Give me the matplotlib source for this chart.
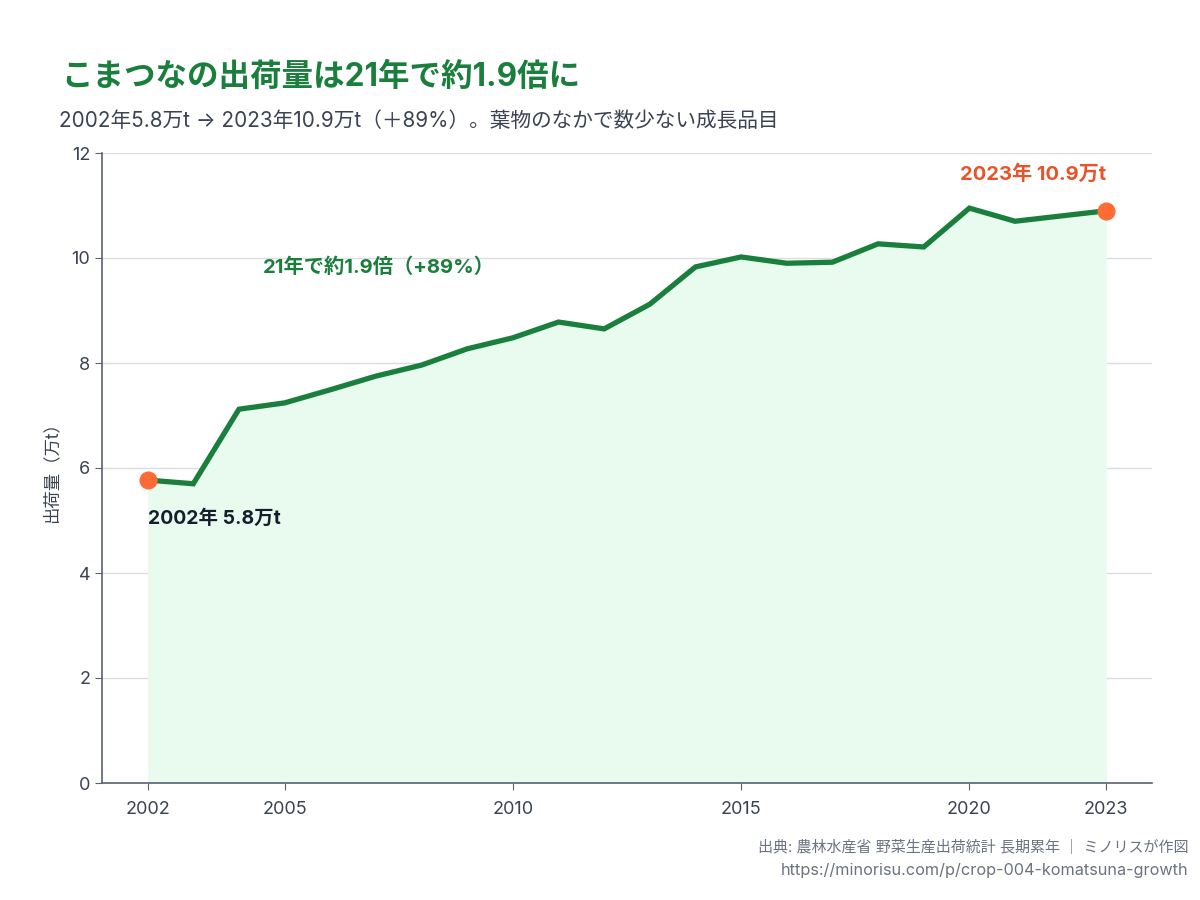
import matplotlib
matplotlib.use("Agg")
import matplotlib.pyplot as plt

plt.rcParams['font.family'] = ['Inter', 'Noto Sans CJK JP', 'DejaVu Sans']

years = [2002, 2003, 2004, 2005, 2006, 2007, 2008, 2009, 2010, 2011, 2012,
         2013, 2014, 2015, 2016, 2017, 2018, 2019, 2020, 2021, 2022, 2023]
values = [5.77, 5.70, 7.12, 7.24, 7.49, 7.75, 7.96, 8.27, 8.48, 8.78, 8.65,
          9.12, 9.83, 10.02, 9.90, 9.92, 10.27, 10.21, 10.95, 10.70, 10.80, 10.90]
xticks = [2002, 2005, 2010, 2015, 2020, 2023]
yticks = [0, 2, 4, 6, 8, 10, 12]

GREEN = '#1a7f3c'
FILL = '#e9fbef'
ORANGE = '#ff6b35'
DARK = '#3b4252'

fig = plt.figure(figsize=(12, 9), dpi=100)
ax = fig.add_axes([0.085, 0.13, 0.875, 0.70])

ax.fill_between(years, values, 0, color=FILL, zorder=1, linewidth=0)
ax.plot(years, values, color=GREEN, linewidth=3.8, zorder=3, solid_joinstyle='miter')
ax.scatter([years[0], years[-1]], [values[0], values[-1]], s=170, color=ORANGE, zorder=4, linewidths=0)

ax.set_xlim(2001, 2024)
ax.set_ylim(0, 12)
ax.set_xticks(xticks)
ax.set_yticks(yticks)
ax.grid(axis='y', color='#dcdde3', linewidth=1)
ax.set_axisbelow(True)
for s in ['top', 'right']:
    ax.spines[s].set_visible(False)
for s in ['left', 'bottom']:
    ax.spines[s].set_color('#5a6270')
    ax.spines[s].set_linewidth(1.2)
ax.tick_params(axis='both', colors='#5a6270', labelcolor=DARK, labelsize=13, length=5)
ax.tick_params(axis='x', pad=8)
ax.set_ylabel('出荷量（万t）', fontsize=12.5, color=DARK, labelpad=8)

ax.text(2004.52, 9.83, '21年で約1.9倍（+89%）', color=GREEN, fontsize=14.6, fontweight='bold',
        ha='left', va='center')
ax.text(years[0], 5.03, f'{years[0]}年 {values[0]:.1f}万t', color='#161d2b', fontsize=14,
        fontweight='bold', ha='left', va='center')
ax.text(years[-1], 11.6, f'{years[-1]}年 {values[-1]:.1f}万t', color='#e8532a', fontsize=14.5,
        fontweight='bold', ha='right', va='center')

fig.text(61/1200, 1 - 77/900, 'こまつなの出荷量は21年で約1.9倍に', color=GREEN, fontsize=22.7,
         fontweight='bold', ha='left', va='center')
fig.text(59/1200, 1 - 121/900, '2002年5.8万t → 2023年10.9万t（＋89%）。葉物のなかで数少ない成長品目',
         color=DARK, fontsize=14.9, ha='left', va='center')
fig.text(1188/1200, 1 - 847/900, '出典: 農林水産省 野菜生産出荷統計 長期累年 ｜ ミノリスが作図',
         color='#6b7280', fontsize=10.8, ha='right', va='center')
fig.text(1188/1200, 1 - 870/900, 'https://minorisu.com/p/crop-004-komatsuna-growth',
         color='#6b7280', fontsize=11.7, ha='right', va='center')

fig.savefig('out.png', dpi=100, facecolor='white')
